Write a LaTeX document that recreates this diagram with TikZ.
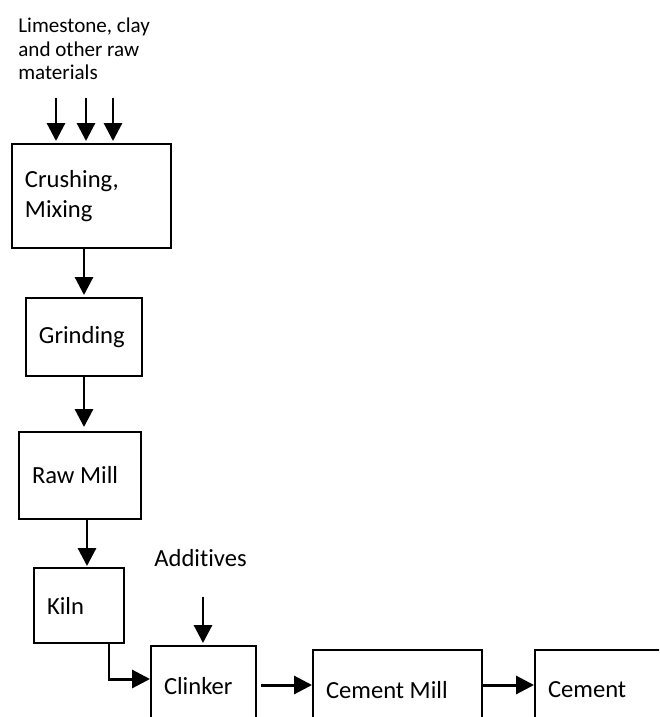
\documentclass[tikz,border=0pt]{standalone}
\usepackage{fontspec}
\setmainfont{Carlito}[Ligatures=NoCommon]
\usetikzlibrary{positioning,arrows.meta,calc}

\begin{document}
\begin{tikzpicture}[
  stage/.style={draw, line width=1.1pt, align=flush left, inner xsep=0.26cm, inner ysep=0pt, font=\fontsize{14}{17}\selectfont},
  note/.style={align=flush left, inner sep=0pt, font=\fontsize{12}{13.4}\selectfont},
  arrow/.style={-{Triangle[length=0.36cm, width=0.36cm]}, line width=1.7pt}
]
\useasboundingbox (0,0) rectangle (13.18,-14.34);
\clip (0,0) rectangle (13.18,-14.34);

\node[note, anchor=west] (raw materials) at (0.36,-0.98) {Limestone, clay\\and other raw\\materials};
\node[note, anchor=west, font=\fontsize{14}{17}\selectfont] (additives) at (3.08,-11.16) {Additives};

\node[stage, text width=2.66cm, minimum height=2.08cm] (crush) at (1.83,-3.92) {Crushing,\\Mixing};
\node[stage, text width=1.80cm, minimum height=1.56cm] (grind) at (1.68,-6.74) {Grinding};
\node[stage, text width=1.92cm, minimum height=1.74cm] (raw) at (1.60,-9.51) {Raw Mill};
\node[stage, text width=1.28cm, minimum height=1.50cm] (kiln) at (1.58,-12.11) {Kiln};
\node[stage, text width=1.58cm, minimum height=1.60cm] (clinker) at (4.07,-13.72) {Clinker};
\node[stage, text width=2.86cm, minimum height=1.60cm] (cmill) at (7.95,-13.80) {Cement Mill};
\node[stage, text width=2.78cm, minimum height=1.60cm] (cement) at (12.35,-13.80) {Cement};

\coordinate (in1) at (1.12,-1.96);
\coordinate (in2) at (1.72,-1.96);
\coordinate (in3) at (2.26,-1.96);
\coordinate (add) at (4.06,-11.94);

% raw materials in
\foreach \c in {in1,in2,in3}
  \draw[arrow, shorten >=0.04cm] (\c) -- (\c |- crush.north);

\draw[arrow, shorten >=0.04cm] (grind.north |- crush.south) -- (grind.north);
\draw[arrow, shorten >=0.08cm] (grind.south) -- (grind.south |- raw.north);
\draw[arrow, shorten >=0.02cm] ([xshift=0.14cm]raw.south) -- ([xshift=0.14cm]raw.south |- kiln.north);
\draw[arrow] ([xshift=0.6cm]kiln.south) |- ([yshift=0.14cm]clinker.west);
\draw[arrow, shorten >=0.04cm] (add) -- (add |- clinker.north);
\draw[arrow, shorten <=0.08cm] ([yshift=0.02cm]clinker.east) -- ([yshift=0.02cm]clinker.east -| cmill.west);
\draw[arrow] ([yshift=0.1cm]cmill.east) -- ([yshift=0.1cm]cmill.east -| cement.west);
\end{tikzpicture}
\end{document}
